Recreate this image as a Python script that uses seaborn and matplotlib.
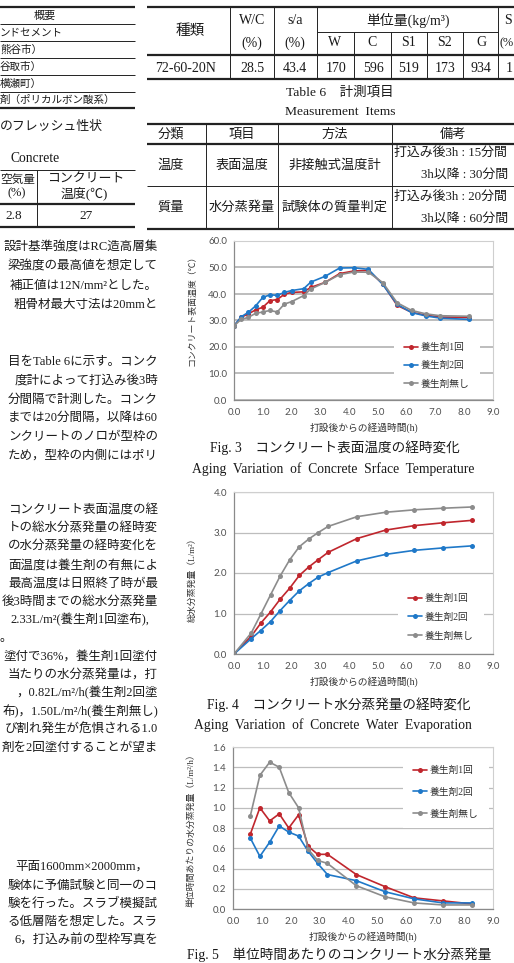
"""
Page crop: mix tables + Fig. 3-5 (surface temperature / water evaporation of concrete).
"""
import numpy as np
import pandas as pd
import seaborn as sns
import matplotlib.pyplot as plt

# ---- data ----------------------------------------------------------------
series_names = ['養生剤1回', '養生剤2回', '養生剤無し']
series_colors = ['#c0262d', '#1f78c8', '#8c8c8c']

# Fig. 3 concrete surface temperature (deg C)
temp_hours = [0.0, 0.25, 0.5, 0.75, 1.0, 1.25, 1.5, 1.75, 2.0, 2.42, 2.67,
              3.17, 3.67, 4.17, 4.67, 5.17, 5.67, 6.17, 6.67, 7.17, 8.17]
temp_coat1 = [28.0, 31.2, 32.5, 34.0, 35.0, 37.5, 37.9, 39.9, 40.6, 40.8, 42.5,
              44.4, 47.7, 48.7, 48.9, 43.8, 35.7, 33.1, 32.0, 31.3, 31.1]
temp_coat2 = [28.0, 31.4, 33.1, 35.5, 38.7, 39.7, 39.5, 40.6, 41.3, 42.0, 44.5,
              46.7, 49.8, 49.9, 49.3, 43.6, 36.1, 33.0, 31.7, 30.9, 30.4]
temp_none = [28.0, 30.4, 31.2, 32.7, 33.2, 33.8, 33.2, 36.2, 37.1, 39.4, 41.9,
             44.4, 47.3, 48.3, 48.2, 44.3, 36.7, 33.8, 32.5, 31.8, 31.6]

# Fig. 4 total water evaporation (L/m2)
total_hours = [0.0, 0.6, 0.93, 1.27, 1.6, 1.93, 2.27, 2.6, 2.93, 3.27,
               4.27, 5.27, 6.27, 7.27, 8.27]
total_coat1 = [0.0, 0.44, 0.76, 1.04, 1.35, 1.62, 1.94, 2.15, 2.33, 2.51,
               2.85, 3.06, 3.17, 3.24, 3.30]
total_coat2 = [0.0, 0.38, 0.58, 0.80, 1.07, 1.32, 1.56, 1.74, 1.90, 2.01,
               2.30, 2.46, 2.56, 2.62, 2.67]
total_none = [0.0, 0.52, 0.98, 1.46, 1.92, 2.32, 2.65, 2.84, 3.00, 3.15,
              3.39, 3.50, 3.56, 3.60, 3.63]

# Fig. 5 evaporation per hour (L/m2/h)
rate_hours = [0.6, 0.93, 1.27, 1.6, 1.93, 2.27, 2.6, 2.93, 3.27,
              4.27, 5.27, 6.27, 7.27, 8.27]
rate_coat1 = [0.74, 1.00, 0.87, 0.94, 0.80, 0.93, 0.62, 0.54, 0.54,
              0.34, 0.22, 0.11, 0.08, 0.05]
rate_coat2 = [0.70, 0.52, 0.66, 0.82, 0.76, 0.72, 0.57, 0.45, 0.34,
              0.28, 0.17, 0.10, 0.06, 0.06]
rate_none = [0.92, 1.32, 1.45, 1.40, 1.15, 1.00, 0.59, 0.48, 0.45,
             0.23, 0.12, 0.06, 0.04, 0.04]

hour_ticks = [0, 1, 2, 3, 4, 5, 6, 7, 8, 9]
temp_ticks = [0, 10, 20, 30, 40, 50, 60]
total_ticks = [0, 1, 2, 3, 4]
rate_ticks = [0.0, 0.2, 0.4, 0.6, 0.8, 1.0, 1.2, 1.4, 1.6]

W, H = 514, 963
JP = ['Liberation Serif', 'Noto Sans CJK JP']
INK = '#1a1a1a'

sns.set_style('white')
plt.rcParams['font.family'] = ['Lato', 'Noto Sans CJK JP']

fig = plt.figure(figsize=(W / 100, H / 100), dpi=100)

# page layer in pixel units (tables, captions, body text)
page = fig.add_axes([0, 0, 1, 1])
page.set_xlim(0, W)
page.set_ylim(H, 0)
page.axis('off')


def put(s, x, y, size=9.0, ha='center', color=INK, **kw):
    page.text(x, y, s, fontsize=size, ha=ha, va='center', family=JP, color=color, **kw)


def hl(y, x0, x1, lw=0.7):
    page.plot([x0, x1], [y, y], color='#222222', lw=lw, solid_capstyle='butt')


def vl(x, y0, y1, lw=0.7):
    page.plot([x, x], [y0, y1], color='#222222', lw=lw, solid_capstyle='butt')


# --- materials table (top left, cut by the crop) ---
hl(7, 0, 135, 1.6)
for yy in [24, 41, 58, 75, 92]:
    hl(yy, 0, 135)
hl(108, 0, 135, 1.6)
put('概要', 45, 15.5, size=8)
put('ンドセメント', 0, 33, size=7.6, ha='left')
put('熊谷市）', 0, 50, size=7.6, ha='left')
put('谷取市）', 0, 67, size=7.6, ha='left')
put('横瀬町）', 0, 83.5, size=7.6, ha='left')
put('剤（ポリカルボン酸系）', 0, 100, size=7.6, ha='left')

# --- fresh properties table ---
put('のフレッシュ性状', 0, 127, size=9.3, ha='left')
put('Concrete', 35, 158, size=9.8)
hl(170, 0, 135)
hl(204, 0, 135, 1.6)
hl(227, 0, 135, 1.6)
vl(37, 170, 227)
put('空気量', 0, 180, size=8.4, ha='left')
put('(%)', 17, 193)
put('コンクリート', 86, 180, size=9.3)
put('温度(℃)', 84, 193, size=9.3)
put('2.8', 14, 216, size=9.5)
put('27', 86, 216, size=9.5)

# --- mix proportion table (top right) ---
hl(7, 147, W, 1.6)
hl(32, 317, 498)
hl(55, 147, W, 1.6)
hl(79, 147, W, 1.6)
for xx in [230, 274, 317, 498]:
    vl(xx, 7, 79)
for xx in [354, 391, 427, 463]:
    vl(xx, 32, 79)
put('種類', 190, 31, size=10.5)
put('W/C', 252, 21, size=10)
put('(%)', 252, 43, size=10)
put('s/a', 295, 21, size=10)
put('(%)', 295, 43, size=10)
put('単位量(kg/m³)', 408, 20, size=10)
for lab, xx in zip(['W', 'C', 'S1', 'S2', 'G'], [335, 372, 409, 445, 481]):
    put(lab, xx, 43, size=10)
put('S', 504, 21, size=10, ha='left')
put('(%', 500, 43, size=8.8, ha='left')
for lab, xx in zip(['72-60-20N', '28.5', '43.4', '170', '596', '519', '173', '934'],
                   [186, 252, 295, 336, 373, 409, 445, 481]):
    put(lab, xx, 68, size=10)
put('1', 506, 68, size=10, ha='left')

# --- Table 6 ---
put('Table 6　計測項目', 340, 92, size=9.7)
put('Measurement  Items', 340, 112, size=9.7)
hl(124, 147, W, 1.6)
hl(144, 147, W, 1.6)
hl(186, 147, W)
hl(229, 147, W, 1.6)
for xx in [206, 278, 392]:
    vl(xx, 124, 229)
put('分類', 171, 134.5, size=9.5)
put('項目', 242, 134.5, size=9.5)
put('方法', 335, 134.5, size=9.5)
put('備考', 453, 134.5, size=9.5)
put('温度', 171, 166, size=9.5)
put('表面温度', 242, 166, size=9.5)
put('非接触式温度計', 335, 166, size=9.5)
put('打込み後3h : 15分間', 394, 153, size=9.3, ha='left')
put('3h以降 : 30分間', 421, 175, size=9.3, ha='left')
put('質量', 171, 208, size=9.5)
put('水分蒸発量', 242, 208, size=9.5)
put('試験体の質量判定', 335, 208, size=9.5)
put('打込み後3h : 20分間', 394, 197, size=9.3, ha='left')
put('3h以降 : 60分間', 421, 219, size=9.3, ha='left')

# --- body text of the left column (only the part inside the crop) ---
body = [
    ('設計基準強度はRC造高層集', 248), ('梁強度の最高値を想定して', 267),
    ('補正値は12N/mm²とした。', 286), ('粗骨材最大寸法は20mmと', 305),
    ('目をTable 6に示す。コンク', 362), ('度計によって打込み後3時', 381),
    ('分間隔で計測した。コンク', 400), ('までは20分間隔，以降は60', 418),
    ('ンクリートのノロが型枠の', 437), ('ため，型枠の内側にはポリ', 456),
    ('コンクリート表面温度の経', 511), ('トの総水分蒸発量の経時変', 529),
    ('の水分蒸発量の経時変化を', 547), ('面温度は養生剤の有無によ', 566),
    ('最高温度は日照終了時が最', 584), ('後3時間までの総水分蒸発量', 602),
    ('塗付で36%，養生剤1回塗付', 657), ('当たりの水分蒸発量は，打', 675),
    ('，0.82L/m²/h(養生剤2回塗', 693), ('布)，1.50L/m²/h(養生剤無し)', 711),
    ('び割れ発生が危惧される1.0', 729), ('剤を2回塗付することが望ま', 748),
    ('験体に予備試験と同一のコ', 886), ('験を行った。スラブ模擬試', 904),
    ('る低層階を想定した。スラ', 922), ('6，打込み前の型枠写真を', 941),
]
for s, yy in body:
    put(s, 158, yy, ha='right')
put('2.33L/m²(養生剤1回塗布),', 149, 620, ha='right')
put('。', 0, 638, ha='left')
put('平面1600mm×2000mm，', 148, 867, ha='right')


# --- charts -----------------------------------------------------------------
def draw_chart(rect, hours, values, ticks, grid_lw, leg_xy, leg_space, ylabel, ylabel_y):
    left, top, right, bottom = rect
    ax = fig.add_axes([left / W, 1 - bottom / H, (right - left) / W, (bottom - top) / H])
    df = pd.DataFrame({
        'hours': np.tile(hours, 3),
        'value': np.concatenate(values),
        'series': np.repeat(series_names, len(hours)),
    })
    sns.lineplot(data=df, x='hours', y='value', hue='series', hue_order=series_names,
                 palette=series_colors, marker='o', markersize=3.6, markeredgewidth=0,
                 linewidth=1.2, sort=False, legend=False, ax=ax)
    ax.set_xlim(hour_ticks[0], hour_ticks[-1])
    ax.set_xticks(hour_ticks)
    ax.set_xticklabels([f'{v:.1f}' for v in hour_ticks])
    ax.set_ylim(ticks[0], ticks[-1])
    ax.set_yticks(ticks)
    ax.set_yticklabels([f'{v:.1f}' for v in ticks])
    ax.set_xlabel('')
    ax.set_ylabel('')
    ax.yaxis.grid(True, color='#bdbdbd', lw=grid_lw)
    ax.xaxis.grid(False)
    ax.set_axisbelow(True)
    for side in ['top', 'right']:
        ax.spines[side].set_color('#cfcfcf')
        ax.spines[side].set_linewidth(0.8)
    for side in ['left', 'bottom']:
        ax.spines[side].set_color('#8a8a8a')
        ax.spines[side].set_linewidth(0.9)
    ax.tick_params(axis='x', direction='out', length=3.5, width=0.8, color='#8a8a8a',
                   labelsize=7, labelcolor='#505050', pad=2.5)
    ax.tick_params(axis='y', length=0, labelsize=7, labelcolor='#505050', pad=5)

    leg = ax.legend(ax.get_lines()[:3], series_names, loc='upper left',
                    bbox_to_anchor=(leg_xy[0] / W, 1 - leg_xy[1] / H),
                    bbox_transform=fig.transFigure, frameon=True, facecolor='white',
                    edgecolor='none', framealpha=1, fancybox=False, borderpad=1.0,
                    borderaxespad=0, labelspacing=leg_space, handlelength=1.5,
                    handletextpad=0.3, prop={'family': JP, 'size': 7})
    for t in leg.get_texts():
        t.set_color('#333333')

    put('打設後からの経過時間(h)', (left + right) / 2, bottom + 28, size=7, color='#333333')
    put(ylabel, left - 42, ylabel_y, size=6.4, rotation=90, color='#333333')
    return ax


draw_chart((234, 241, 493, 400), temp_hours, [temp_coat1, temp_coat2, temp_none],
           temp_ticks, 1.4, (394, 333), 0.95, 'コンクリート表面温度（℃）', 308)
put('Fig. 3　コンクリート表面温度の経時変化', 335, 448, size=9.8)
put('Aging  Variation  of  Concrete  Srface  Temperature', 333, 469, size=9.8)

draw_chart((234, 492, 493, 654), total_hours, [total_coat1, total_coat2, total_none],
           total_ticks, 0.9, (398, 584), 1.0, '総水分蒸発量（L/m²）', 578)
put('Fig. 4　コンクリート水分蒸発量の経時変化', 339, 705, size=9.8)
put('Aging  Variation  of  Concrete  Water  Evaporation', 333, 725, size=9.8)

draw_chart((233, 747, 493, 909), rate_hours, [rate_coat1, rate_coat2, rate_none],
           rate_ticks, 0.9, (403, 756), 1.3, '単位時間あたりの水分蒸発量（L/m²/h）', 828)
put('Fig. 5　単位時間あたりのコンクリート水分蒸発量', 339, 955, size=9.8)

fig.savefig('out.png', dpi=100)
plt.close(fig)
